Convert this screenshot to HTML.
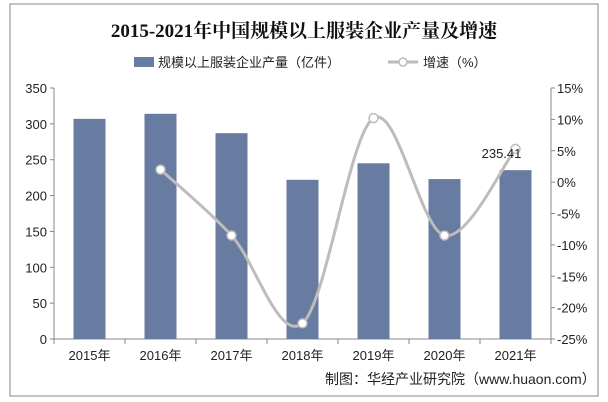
<!DOCTYPE html>
<html><head><meta charset="utf-8"><style>
body{margin:0;background:#fff;}
svg{display:block;font-family:"Liberation Sans","Noto Sans CJK SC",sans-serif;}
</style></head><body>
<svg id="c" width="608" height="402">
<rect x="10" y="4" width="588" height="392" fill="#fff" stroke="#888"/>
<text x="304" y="37" text-anchor="middle" font-size="19" font-weight="bold" font-family="Liberation Serif,Noto Serif CJK SC,serif" fill="#111">2015-2021年中国规模以上服装企业产量及增速</text>
<g>
<rect x="134" y="57" width="20" height="10" fill="#687ba0"/>
<text x="158" y="67" font-size="13" fill="#222">规模以上服装企业产量（亿件）</text>
<line x1="388" y1="62" x2="418" y2="62" stroke="#bbb" stroke-width="3"/>
<circle cx="403" cy="62" r="4" fill="#fff" stroke="#bbb" stroke-width="1.5"/>
<text x="423" y="67" font-size="13" fill="#222">增速（%）</text>
</g>
<g id="plot"></g>
<text x="325" y="384" font-size="14" fill="#222">制图：华经产业研究院（www.huaon.com）</text>
</svg>
<script>
const years=["2015年","2016年","2017年","2018年","2019年","2020年","2021年"];
const output=[307,314,287,222,245,223,235.41];
const growth=[null,2.0,-8.5,-22.5,10.2,-8.5,5.3];
const leftTicks=[0,50,100,150,200,250,300,350];
const rightTicks=[-25,-20,-15,-10,-5,0,5,10,15];
const NS="http://www.w3.org/2000/svg";
const g=document.getElementById('plot');
const X0=54,X1=551,YT=88,YB=339;
const cw=(X1-X0)/years.length;
const yL=v=>YB-(v-0)/350*(YB-YT);
const yR=v=>YB-(v+25)/40*(YB-YT);
const xC=i=>X0+cw*(i+0.5);
function mk(t,a,txt){const e=document.createElementNS(NS,t);for(const k in a)e.setAttribute(k,a[k]);if(txt!=null)e.textContent=txt;g.appendChild(e);return e;}
let e;
e=mk('line',{x1:X0,y1:YT,x2:X0,y2:YB,stroke:'#888'});


e=mk('line',{x1:X1,y1:YT,x2:X1,y2:YB,stroke:'#888'});


e=mk('line',{x1:X0,y1:YB,x2:X1,y2:YB,stroke:'#888'});


leftTicks.forEach(v=>{mk('line',{x1:X0-4,y1:yL(v),x2:X0,y2:yL(v),stroke:'#888'});
e=mk('text',{x:X0-7,y:yL(v)+5,'text-anchor':'end','font-size':13,fill:'#222'},v);

});
rightTicks.forEach(v=>{mk('line',{x1:X1,y1:yR(v),x2:X1+4,y2:yR(v),stroke:'#888'});
e=mk('text',{x:X1+6,y:yR(v)+5,'font-size':13,fill:'#222'},v+'%');

});
for(let i=0;i<=years.length;i++)mk('line',{x1:X0+cw*i,y1:YB,x2:X0+cw*i,y2:YB+5,stroke:'#888'});
years.forEach((y,i)=>{e=mk('text',{x:xC(i),y:YB+21,'text-anchor':'middle','font-size':13,fill:'#222'},y);

});
output.forEach((v,i)=>{e=mk('rect',{x:xC(i)-16,y:yL(v),width:32,height:YB-yL(v),fill:'#687ba0'});

});
const pts=[];growth.forEach((v,i)=>{if(v!=null)pts.push([xC(i),yR(v)]);});
let d='M'+pts[0][0]+','+pts[0][1];
for(let i=0;i<pts.length-1;i++){const p0=pts[Math.max(i-1,0)],p1=pts[i],p2=pts[i+1],p3=pts[Math.min(i+2,pts.length-1)];
const t=6;d+=` C${p1[0]+(p2[0]-p0[0])/t},${p1[1]+(p2[1]-p0[1])/t} ${p2[0]-(p3[0]-p1[0])/t},${p2[1]-(p3[1]-p1[1])/t} ${p2[0]},${p2[1]}`;}
e=mk('path',{d:d,fill:'none',stroke:'#bdbdbd','stroke-width':3});


pts.forEach(p=>{e=mk('circle',{cx:p[0],cy:p[1],r:4.5,fill:'#fff',stroke:'#bdbdbd','stroke-width':1.5});

});
e=mk('text',{x:xC(6)-14,y:yL(output[6])-12,'text-anchor':'middle','font-size':13,fill:'#222'},output[6].toFixed(2));


</script>
</body></html>
